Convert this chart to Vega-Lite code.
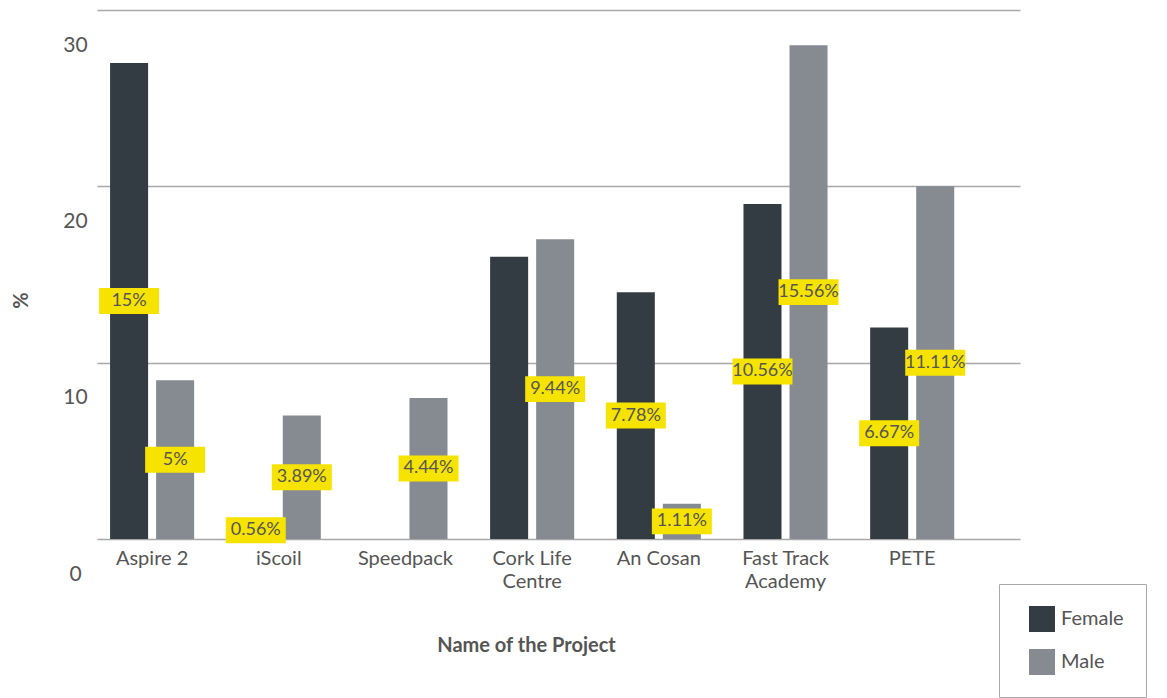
{
  "$schema": "https://vega.github.io/schema/vega-lite/v6.json",
  "autosize": "none",
  "width": 923,
  "height": 529,
  "padding": {"left": 97, "top": 10, "right": 147, "bottom": 159},
  "background": "#ffffff",
  "config": {
    "view": {"stroke": null},
    "font": "Lato",
    "axis": {"domain": false, "ticks": false, "labelFont": "Lato", "titleFont": "Lato", "labelColor": "#555555", "titleColor": "#555555"}
  },
  "data": {
    "values": [
      {"project": "Aspire 2", "gender": "Female", "count": 27, "label": "15%"},
      {"project": "Aspire 2", "gender": "Male", "count": 9, "label": "5%"},
      {"project": "iScoil", "gender": "Female", "count": 1, "label": "0.56%"},
      {"project": "iScoil", "gender": "Male", "count": 7, "label": "3.89%"},
      {"project": "Speedpack", "gender": "Female", "count": 0, "label": ""},
      {"project": "Speedpack", "gender": "Male", "count": 8, "label": "4.44%"},
      {"project": "Cork Life Centre", "gender": "Female", "count": 16, "label": ""},
      {"project": "Cork Life Centre", "gender": "Male", "count": 17, "label": "9.44%"},
      {"project": "An Cosan", "gender": "Female", "count": 14, "label": "7.78%"},
      {"project": "An Cosan", "gender": "Male", "count": 2, "label": "1.11%"},
      {"project": "Fast Track Academy", "gender": "Female", "count": 19, "label": "10.56%"},
      {"project": "Fast Track Academy", "gender": "Male", "count": 28, "label": "15.56%"},
      {"project": "PETE", "gender": "Female", "count": 12, "label": "6.67%"},
      {"project": "PETE", "gender": "Male", "count": 20, "label": "11.11%"}
    ]
  },
  "encoding": {
    "x": {
      "field": "project",
      "type": "nominal",
      "sort": ["Aspire 2", "iScoil", "Speedpack", "Cork Life Centre", "An Cosan", "Fast Track Academy", "PETE"],
      "scale": {"paddingInner": 0.3, "paddingOuter": 0.293, "align": 0.145},
      "axis": {
        "title": "Name of the Project",
        "labelAngle": 0,
        "labelFontSize": 20,
        "labelPadding": 9,
        "labelBaseline": "top",
        "labelLineHeight": 23,
        "labelExpr": "datum.value == 'Cork Life Centre' ? ['Cork Life', 'Centre'] : datum.value == 'Fast Track Academy' ? ['Fast Track', 'Academy'] : datum.value",
        "titleFontSize": 20,
        "titleFontWeight": "bold",
        "titleX": 429,
        "titleY": 106,
        "titleBaseline": "middle"
      }
    },
    "xOffset": {
      "field": "gender",
      "type": "nominal",
      "sort": ["Female", "Male"],
      "scale": {"paddingInner": 0.174, "paddingOuter": 0.05}
    }
  },
  "layer": [
    {
      "mark": {"type": "bar"},
      "encoding": {
        "y": {
          "field": "count",
          "type": "quantitative",
          "scale": {"domain": [0, 30], "nice": false},
          "axis": {
            "values": [0, 10, 20, 30],
            "grid": true,
            "gridColor": "#A8A8A8",
            "gridWidth": 1.5,
            "labelAlign": "center",
            "labelPadding": 22,
            "labelOffset": 35,
            "labelFontSize": 21,
            "title": "%",
            "titleFontSize": 20,
            "titleFontWeight": "bold",
            "titleX": -76,
            "titleY": 290,
            "titleAlign": "center",
            "titleBaseline": "middle"
          }
        },
        "color": {
          "field": "gender",
          "type": "nominal",
          "scale": {"domain": ["Female", "Male"], "range": ["#323C42", "#868B91"]},
          "legend": {
            "title": null,
            "orient": "none",
            "legendX": 902,
            "legendY": 574,
            "padding": 22,
            "strokeColor": "#AAAAAA",
            "fillColor": "#FFFFFF",
            "symbolType": "square",
            "symbolSize": 676,
            "symbolStrokeWidth": 0,
            "symbolOffset": 8,
            "labelOffset": 6,
            "rowPadding": 17,
            "labelFont": "Lato",
            "labelFontSize": 20,
            "labelColor": "#555555"
          }
        }
      }
    },
    {
      "transform": [{"filter": "datum.label != ''"}],
      "mark": {"type": "point", "shape": "M-1,-0.433H1V0.433H-1Z", "filled": true, "color": "#F7E300", "opacity": 1, "size": 3600, "strokeWidth": 0},
      "encoding": {
        "y": {"field": "count", "type": "quantitative", "scale": {"domain": [0, 60], "nice": false}, "axis": null}
      }
    },
    {
      "transform": [{"filter": "datum.label != ''"}],
      "mark": {"type": "text", "font": "Lato", "fontSize": 18, "color": "#555555", "align": "center", "baseline": "middle"},
      "encoding": {
        "y": {"field": "count", "type": "quantitative", "scale": {"domain": [0, 60], "nice": false}, "axis": null},
        "text": {"field": "label", "type": "nominal"}
      }
    }
  ],
  "resolve": {"scale": {"y": "independent"}}
}
